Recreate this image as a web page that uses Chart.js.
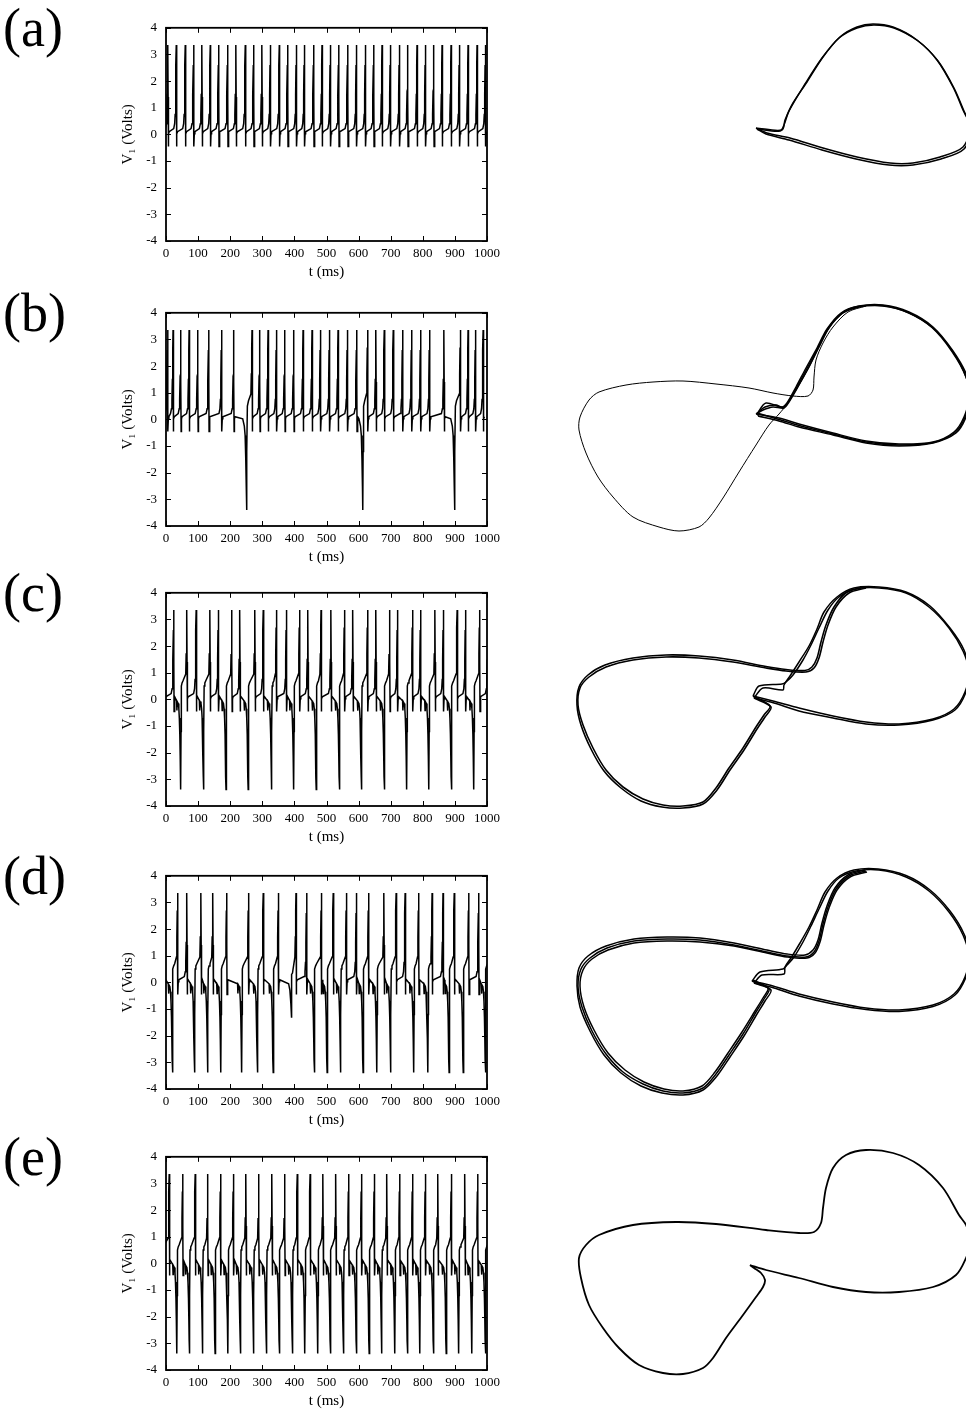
<!DOCTYPE html>
<html><head><meta charset="utf-8">
<script src="https://cdn.jsdelivr.net/npm/chart.js@4.4.1/dist/chart.umd.min.js"></script>
<style>
html,body{margin:0;padding:0;background:#fff;}
#page{position:relative;width:966px;height:1411px;overflow:hidden;background:#fff;}
.tag{position:absolute;left:3px;font-family:"Liberation Serif","Times New Roman",serif;font-size:54px;line-height:54px;color:#000;white-space:nowrap;}
.box{position:absolute;}
</style></head><body><div id="page"></div>
<script>
// ---------- time-series data: event times (ms) ----------
const aUp = [6,32,60,86,112,138,164,192,218,247,273,299,325,353,379,406,431,460,486,512,538,566,593,621,647,673,699,727,753,782,808,834,860,888,914,941,969,995];

const bUp = [5,22,46,72,99,133,173,211,268,292,318,344,370,398,427,455,481,509,536,565,594,628,654,680,708,737,765,793,821,866,917,941,964,988];
const bDip = [251,613,899];

const cUp = [-5,24,65,94,137,163,205,230,277,303,344,375,416,442,483,514,556,582,628,654,697,721,768,793,838,864,907,933,977,1003];
const cDown = [-24,46,117,187,256,329,398,468,540,609,680,750,819,889,959];

const dUp = [-5,36,65,109,146,189,257,303,350,405,438,484,521,562,593,631,679,717,745,787,829,863,898,943,974];
const dDown = [20,89,130,171,236,285,334,462,502,544,614,657,700,772,816,882,926,995];
const dShallow = [391];

const eUp = [10,52,91,130,170,210,249,289,330,370,409,449,489,529,569,609,649,688,728,768,808,847,889,931,971];
const eDown = [-12,34,73,114,153,193,232,273,313,353,394,433,473,512,553,593,633,672,713,752,791,833,873,912,953,995];

// waveform pieces [dt (ms), V1 (V)] read around each event
const shapeUpFromRest = [[-8,0.22],[-5,0.4],[-3.5,0.75],[-2.2,1.5],[-1,2.6],[0,3.35],[0.6,1.4],[1.2,-0.45],[2.2,0.02],[4,0.1]];
const shapeUpFromDown = [[-3.5,0.95],[-2.2,1.7],[-1,2.7],[0,3.35],[0.6,1.4],[1.2,-0.45],[2.2,0.02],[4,0.1]];
const shapeDown = [[-13,-0.05],[-12,-0.42],[-11,-0.08],[-8,-0.15],[-6,-0.35],[-4.5,-0.7],[-3,-1.3],[-1.8,-2.1],[-0.8,-2.9],[0,-3.38],[0.8,-1.2],[1.8,0.5],[4,0.62],[7,0.7]];
const shapeDip = [[-12,0.02],[-7,-0.25],[-4.5,-0.6],[-2.5,-1.5],[-1,-2.5],[0,-3.4],[1,-1.2],[2.5,0.5],[6,0.7]];
const shapeShallow = [[-9,-0.05],[-5,-0.3],[-2,-0.8],[0,-1.3],[0.3,0.3],[3,0.35]];

const xTicks = [0,100,200,300,400,500,600,700,800,900,1000];
const yTicks = [-4,-3,-2,-1,0,1,2,3,4];

// ---------- phase portraits: traced loops [x, y] ----------
const aLoop1 = [[-0.16,0.03],[0.10,0.01],[0.13,0.11],[0.21,0.28],[0.35,0.49],[0.51,0.74],[0.68,0.94],[0.85,1.04],[1.01,1.07],[1.21,1.04],[1.45,0.91],[1.65,0.71],[1.81,0.44],[1.91,0.21],[1.98,0.04],[1.91,-0.16],[1.68,-0.26],[1.41,-0.32],[1.18,-0.32],[0.85,-0.26],[0.51,-0.17],[0.18,-0.07],[-0.05,-0.02],[-0.16,0.03]];
const aLoop2 = [[-0.15,0.02],[0.08,0.0],[0.12,0.06],[0.17,0.20],[0.33,0.47],[0.50,0.73],[0.67,0.93],[0.85,1.03],[1.02,1.06],[1.22,1.03],[1.46,0.90],[1.66,0.70],[1.82,0.43],[1.92,0.20],[1.99,0.03],[1.92,-0.18],[1.69,-0.28],[1.41,-0.34],[1.17,-0.34],[0.84,-0.28],[0.50,-0.19],[0.17,-0.09],[-0.06,-0.03],[-0.15,0.02]];

const bLoopR1 = [[-0.16,0.02],[0.07,-0.02],[0.27,-0.08],[0.61,-0.17],[0.94,-0.25],[1.27,-0.28],[1.61,-0.26],[1.82,-0.16],[1.92,-0.01],[1.97,0.19],[1.94,0.39],[1.81,0.64],[1.61,0.88],[1.37,1.03],[1.11,1.10],[0.87,1.09],[0.71,1.03],[0.57,0.88],[0.47,0.69],[0.37,0.49],[0.27,0.31],[0.17,0.14],[0.12,0.08],[0.01,0.09],[-0.09,0.06],[-0.16,0.02]];
const bLoopR2 = [[-0.14,0.0],[0.07,-0.05],[0.27,-0.11],[0.61,-0.19],[0.94,-0.27],[1.27,-0.30],[1.61,-0.27],[1.84,-0.17],[1.94,-0.01],[1.98,0.19],[1.95,0.40],[1.81,0.65],[1.61,0.89],[1.37,1.04],[1.11,1.11],[0.87,1.10],[0.69,1.03],[0.55,0.87],[0.45,0.68],[0.34,0.48],[0.24,0.29],[0.15,0.13],[0.10,0.09],[-0.06,0.13],[-0.13,0.05],[-0.14,0.0]];
const bLoopR3 = [[-0.15,0.03],[0.07,-0.035],[0.27,-0.095],[0.61,-0.18],[0.94,-0.26],[1.27,-0.29],[1.61,-0.265],[1.83,-0.165],[1.93,-0.01],[1.97,0.19],[1.94,0.39],[1.80,0.645],[1.60,0.885],[1.36,1.035],[1.10,1.105],[0.86,1.095],[0.70,1.03],[0.56,0.875],[0.46,0.685],[0.355,0.485],[0.255,0.30],[0.16,0.135],[0.11,0.085],[0.04,0.11],[-0.07,0.09],[-0.15,0.03]];
const bLoopL = [[0.87,1.09],[0.71,1.03],[0.57,0.88],[0.47,0.69],[0.37,0.49],[0.27,0.31],[0.16,0.13],[0.07,0.02],[-0.03,-0.09],[-0.16,-0.29],[-0.33,-0.56],[-0.49,-0.82],[-0.63,-1.02],[-0.73,-1.11],[-0.93,-1.15],[-1.13,-1.11],[-1.39,-1.01],[-1.59,-0.81],[-1.74,-0.61],[-1.86,-0.37],[-1.93,-0.14],[-1.92,-0.01],[-1.83,0.16],[-1.73,0.24],[-1.46,0.31],[-1.19,0.34],[-0.89,0.35],[-0.56,0.32],[-0.23,0.28],[0.01,0.23],[0.21,0.20],[0.36,0.20],[0.41,0.26],[0.42,0.39],[0.44,0.56],[0.51,0.73],[0.61,0.89],[0.76,1.04],[0.94,1.10]];

const cLoopR1 = [[-0.19,0.0],[0.01,-0.05],[0.27,-0.12],[0.61,-0.20],[0.94,-0.26],[1.27,-0.28],[1.61,-0.23],[1.82,-0.13],[1.93,0.04],[1.97,0.24],[1.91,0.45],[1.77,0.68],[1.57,0.89],[1.34,1.03],[1.07,1.08],[0.84,1.07],[0.67,0.99],[0.56,0.86],[0.47,0.68],[0.39,0.51],[0.31,0.36],[0.21,0.21],[0.14,0.14],[0.10,0.12],[-0.13,0.10],[-0.19,0.0]];
const cLoopR2 = [[-0.18,-0.02],[0.02,-0.07],[0.27,-0.15],[0.61,-0.22],[0.94,-0.28],[1.27,-0.29],[1.61,-0.24],[1.83,-0.14],[1.94,0.04],[1.97,0.24],[1.92,0.46],[1.78,0.68],[1.58,0.90],[1.34,1.04],[1.07,1.09],[0.82,1.08],[0.65,0.99],[0.52,0.84],[0.45,0.67],[0.37,0.50],[0.27,0.34],[0.18,0.20],[0.12,0.11],[0.11,0.06],[-0.09,0.08],[-0.18,-0.02]];
const cLoopL1 = [[-0.19,0.0],[-0.02,-0.10],[-0.08,-0.19],[-0.16,-0.31],[-0.29,-0.52],[-0.43,-0.72],[-0.56,-0.92],[-0.69,-1.06],[-0.89,-1.10],[-1.09,-1.09],[-1.29,-1.03],[-1.49,-0.91],[-1.66,-0.74],[-1.79,-0.52],[-1.89,-0.29],[-1.94,-0.09],[-1.92,0.08],[-1.83,0.19],[-1.66,0.29],[-1.39,0.36],[-1.06,0.39],[-0.73,0.38],[-0.39,0.34],[-0.06,0.28],[0.14,0.25],[0.34,0.24],[0.42,0.28],[0.47,0.38],[0.51,0.54],[0.56,0.71],[0.64,0.89],[0.77,1.03],[0.94,1.08]];
const cLoopL2 = [[-0.18,-0.02],[-0.01,-0.11],[-0.07,-0.21],[-0.15,-0.33],[-0.28,-0.54],[-0.42,-0.74],[-0.55,-0.94],[-0.69,-1.08],[-0.89,-1.12],[-1.10,-1.11],[-1.31,-1.05],[-1.51,-0.92],[-1.68,-0.75],[-1.81,-0.53],[-1.91,-0.29],[-1.95,-0.09],[-1.93,0.09],[-1.84,0.21],[-1.67,0.31],[-1.39,0.38],[-1.06,0.41],[-0.73,0.40],[-0.39,0.36],[-0.06,0.295],[0.14,0.265],[0.33,0.255],[0.40,0.29],[0.45,0.38],[0.49,0.54],[0.54,0.71],[0.62,0.89],[0.75,1.04],[0.92,1.09]];

const dLoopR1 = [[-0.20,-0.02],[0.01,-0.07],[0.27,-0.15],[0.61,-0.23],[0.94,-0.29],[1.27,-0.31],[1.61,-0.26],[1.82,-0.15],[1.93,0.02],[1.97,0.22],[1.91,0.44],[1.77,0.67],[1.57,0.88],[1.34,1.02],[1.07,1.09],[0.84,1.08],[0.67,1.01],[0.56,0.88],[0.47,0.70],[0.39,0.53],[0.31,0.37],[0.22,0.22],[0.15,0.14],[0.11,0.10],[-0.12,0.07],[-0.20,-0.02]];
const dLoopR2 = [[-0.18,-0.04],[0.02,-0.09],[0.27,-0.17],[0.61,-0.25],[0.94,-0.305],[1.27,-0.325],[1.61,-0.275],[1.83,-0.16],[1.94,0.02],[1.98,0.22],[1.92,0.45],[1.78,0.68],[1.58,0.89],[1.34,1.035],[1.06,1.10],[0.82,1.09],[0.65,1.01],[0.53,0.87],[0.45,0.69],[0.37,0.52],[0.28,0.36],[0.19,0.21],[0.13,0.12],[0.12,0.05],[-0.10,0.04],[-0.18,-0.04]];
const dLoopL1 = [[-0.20,-0.02],[-0.03,-0.10],[-0.08,-0.20],[-0.16,-0.33],[-0.29,-0.55],[-0.43,-0.76],[-0.56,-0.95],[-0.69,-1.09],[-0.89,-1.14],[-1.09,-1.12],[-1.29,-1.05],[-1.49,-0.93],[-1.66,-0.75],[-1.80,-0.52],[-1.90,-0.28],[-1.94,-0.07],[-1.91,0.10],[-1.82,0.21],[-1.65,0.31],[-1.38,0.38],[-1.05,0.40],[-0.72,0.39],[-0.38,0.34],[-0.05,0.27],[0.15,0.23],[0.34,0.22],[0.42,0.27],[0.47,0.38],[0.51,0.55],[0.56,0.72],[0.64,0.90],[0.77,1.03],[0.94,1.08]];
const dLoopL2 = [[-0.18,-0.04],[-0.01,-0.11],[-0.07,-0.22],[-0.15,-0.35],[-0.28,-0.57],[-0.42,-0.78],[-0.55,-0.97],[-0.69,-1.11],[-0.89,-1.16],[-1.10,-1.14],[-1.31,-1.07],[-1.51,-0.94],[-1.68,-0.76],[-1.82,-0.52],[-1.92,-0.28],[-1.95,-0.07],[-1.93,0.11],[-1.84,0.23],[-1.66,0.33],[-1.38,0.40],[-1.05,0.42],[-0.72,0.41],[-0.38,0.36],[-0.05,0.29],[0.15,0.25],[0.33,0.24],[0.41,0.29],[0.46,0.39],[0.50,0.56],[0.55,0.73],[0.63,0.91],[0.76,1.04],[0.93,1.09]];
const dLoopL3 = [[-0.19,-0.01],[-0.04,-0.09],[-0.09,-0.19],[-0.17,-0.32],[-0.30,-0.53],[-0.44,-0.74],[-0.57,-0.93],[-0.70,-1.07],[-0.89,-1.12],[-1.08,-1.10],[-1.28,-1.03],[-1.47,-0.91],[-1.64,-0.74],[-1.78,-0.51],[-1.88,-0.28],[-1.92,-0.07],[-1.89,0.09],[-1.80,0.20],[-1.64,0.29],[-1.38,0.36],[-1.05,0.38],[-0.72,0.37],[-0.38,0.33],[-0.05,0.26],[0.15,0.22],[0.35,0.21],[0.43,0.26],[0.48,0.37],[0.52,0.54],[0.57,0.71],[0.65,0.89],[0.78,1.02],[0.95,1.07]];

const eLoop = [[-0.22,-0.05],[-0.06,-0.10],[0.27,-0.18],[0.61,-0.27],[0.94,-0.32],[1.27,-0.32],[1.61,-0.27],[1.84,-0.15],[1.94,0.02],[1.99,0.18],[1.94,0.35],[1.87,0.45],[1.71,0.72],[1.47,0.95],[1.21,1.07],[0.94,1.10],[0.74,1.05],[0.61,0.92],[0.54,0.72],[0.51,0.52],[0.49,0.37],[0.42,0.28],[0.27,0.27],[-0.06,0.30],[-0.56,0.36],[-0.96,0.38],[-1.39,0.35],[-1.73,0.25],[-1.86,0.15],[-1.93,0.02],[-1.91,-0.18],[-1.83,-0.45],[-1.69,-0.68],[-1.53,-0.88],[-1.33,-1.05],[-1.09,-1.13],[-0.89,-1.14],[-0.69,-1.08],[-0.59,-0.98],[-0.46,-0.78],[-0.29,-0.55],[-0.16,-0.37],[-0.09,-0.27],[-0.07,-0.20],[-0.11,-0.13],[-0.18,-0.08],[-0.22,-0.05]];

// ---------- build ----------
const SERIF = '"Liberation Serif","Times New Roman",serif';
const shapeFor = {D: shapeDown, B: shapeDip, S: shapeShallow};

function buildTrace(groups) {
  const ev = [];
  groups.forEach(([times, kind]) => times.forEach(t => ev.push({t, kind})));
  ev.sort((p, q) => p.t - q.t);
  const pts = [];
  let prev = 'U';
  ev.forEach(e => {
    const shape = e.kind === 'U' ? (prev === 'U' ? shapeUpFromRest : shapeUpFromDown) : shapeFor[e.kind];
    shape.forEach(([dt, v]) => pts.push({x: e.t + dt, y: v}));
    prev = e.kind;
  });
  pts.sort((p, q) => p.x - q.x);
  return pts;
}

const frameTicks = {
  id: 'frameTicks',
  afterDatasetsDraw(chart) {
    const {ctx, chartArea: a, scales: {x, y}} = chart;
    ctx.save();
    ctx.strokeStyle = '#000';
    ctx.lineWidth = 1;
    ctx.beginPath();
    xTicks.forEach(v => {
      const p = Math.round(x.getPixelForValue(v)) + 0.5;
      ctx.moveTo(p, a.bottom); ctx.lineTo(p, a.bottom - 5);
      ctx.moveTo(p, a.top); ctx.lineTo(p, a.top + 5);
    });
    yTicks.forEach(v => {
      const p = Math.round(y.getPixelForValue(v)) + 0.5;
      ctx.moveTo(a.left, p); ctx.lineTo(a.left + 5, p);
      ctx.moveTo(a.right, p); ctx.lineTo(a.right - 5, p);
    });
    ctx.stroke();
    ctx.lineWidth = 1.8;
    ctx.strokeRect(a.left, a.top, a.right - a.left, a.bottom - a.top);
    ctx.restore();
  }
};

const panels = [
  {tag: '(a)', top: 21, groups: [[aUp, 'U']], loops: [aLoop1, aLoop2], widths: [1.5, 1.5]},
  {tag: '(b)', top: 306, groups: [[bUp, 'U'], [bDip, 'B']], loops: [bLoopR1, bLoopR2, bLoopR3, bLoopL], widths: [1.5, 1.5, 1.5, 1.0]},
  {tag: '(c)', top: 586, groups: [[cUp, 'U'], [cDown, 'D']], loops: [cLoopR1, cLoopR2, cLoopL1, cLoopL2], widths: [1.5, 1.5, 1.6, 1.6]},
  {tag: '(d)', top: 869, groups: [[dUp, 'U'], [dDown, 'D'], [dShallow, 'S']], loops: [dLoopR1, dLoopR2, dLoopL1, dLoopL2, dLoopL3], widths: [1.5, 1.5, 1.5, 1.5, 1.5]},
  {tag: '(e)', top: 1150, groups: [[eUp, 'U'], [eDown, 'D']], loops: [eLoop], widths: [1.8]}
];

const page = document.getElementById('page');
function makeCanvas(left, top, w, h) {
  const c = document.createElement('canvas');
  c.width = w; c.height = h;
  c.className = 'box';
  c.style.left = left + 'px'; c.style.top = top + 'px';
  c.style.width = w + 'px'; c.style.height = h + 'px';
  page.appendChild(c);
  return c;
}

const PLOT_H = 220;
panels.forEach(p => {
  const tag = document.createElement('div');
  tag.className = 'tag';
  tag.style.top = (p.top - 20) + 'px';
  tag.textContent = p.tag;
  page.appendChild(tag);

  const c1 = makeCanvas(116, p.top - 10, 396, 10 + PLOT_H + 42);
  new Chart(c1, {
    type: 'line',
    data: {datasets: [{data: buildTrace(p.groups), borderColor: '#000', borderWidth: 1.5, pointRadius: 0, tension: 0, fill: false}]},
    options: {
      responsive: false, animation: false, events: [],
      layout: {padding: {top: 10, right: 25, left: 0, bottom: 0}},
      plugins: {legend: {display: false}, tooltip: {enabled: false}},
      scales: {
        x: {type: 'linear', min: 0, max: 1000,
            afterFit(s) { s.height = 42; },
            grid: {display: false, drawTicks: false, tickLength: 0}, border: {display: false},
            afterBuildTicks(s) { s.ticks = xTicks.map(v => ({value: v})); },
            ticks: {font: {family: SERIF, size: 13}, color: '#000', padding: 5, maxRotation: 0, autoSkip: false, callback: v => String(v)},
            title: {display: true, text: 't (ms)', font: {family: SERIF, size: 15}, color: '#000', padding: {top: 0, bottom: 2}}},
        y: {type: 'linear', min: -4, max: 4,
            afterFit(s) { s.width = 50; },
            grid: {display: false, drawTicks: false, tickLength: 0}, border: {display: false},
            afterBuildTicks(s) { s.ticks = yTicks.map(v => ({value: v})); },
            ticks: {font: {family: SERIF, size: 13}, color: '#000', padding: 9, autoSkip: false, callback: v => String(v)},
            title: {display: true, text: 'V\u2081 (Volts)', font: {family: SERIF, size: 15}, color: '#000', padding: {top: 3, bottom: 0}}}
      }
    },
    plugins: [frameTicks]
  });

  const cy = p.top + PLOT_H / 2;
  const c2 = makeCanvas(560, cy - 125, 406, 250);
  new Chart(c2, {
    type: 'line',
    data: {datasets: p.loops.map((l, i) => ({data: l.map(([x, y]) => ({x, y})), borderColor: '#000', borderWidth: p.widths[i], pointRadius: 0, tension: 0.3, fill: false}))},
    options: {
      responsive: false, animation: false, events: [],
      layout: {padding: 0},
      plugins: {legend: {display: false}, tooltip: {enabled: false}},
      scales: {
        x: {type: 'linear', display: false, min: -2.12, max: 1.94},
        y: {type: 'linear', display: false, min: -1.25, max: 1.25}
      }
    }
  });
});
</script></body></html>
